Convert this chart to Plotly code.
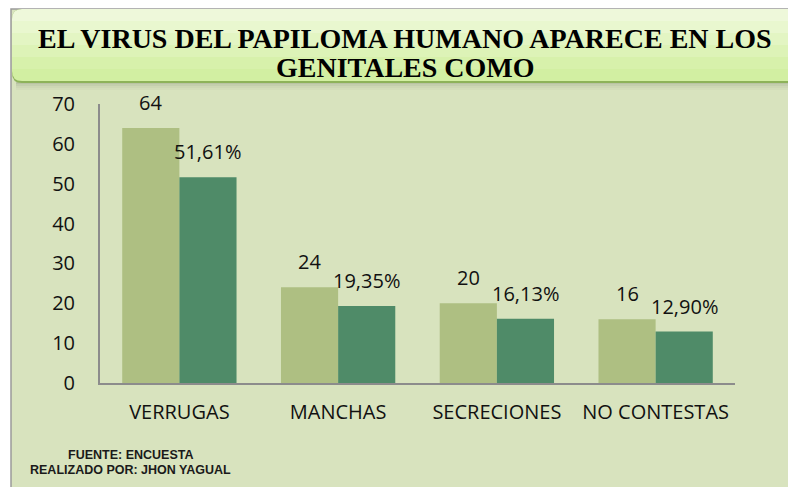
import plotly.graph_objects as go

# ---- data ----
categories = ["VERRUGAS", "MANCHAS", "SECRECIONES", "NO CONTESTAS"]
frecuencia = [64, 24, 20, 16]
porcentaje = [51.61, 19.35, 16.13, 12.90]
frecuencia_labels = ["64", "24", "20", "16"]
porcentaje_labels = ["51,61%", "19,35%", "16,13%", "12,90%"]
y_ticks = [0, 10, 20, 30, 40, 50, 60, 70]

title_line1 = "EL VIRUS DEL PAPILOMA HUMANO APARECE EN LOS"
title_line2 = "GENITALES COMO"
footer1 = "FUENTE: ENCUESTA"
footer2 = "REALIZADO POR: JHON YAGUAL"

# ---- geometry helpers (pixel -> paper) ----
W, H = 788, 487
ML, MR, MT, MB = 100, 53, 104, 104
PW, PH = W - ML - MR, H - MT - MB


def px(xp):
    return (xp - ML) / PW


def py(yp):
    return (H - MB - yp) / PH


fig = go.Figure()

fig.add_trace(go.Bar(
    x=categories, y=frecuencia, name="Frecuencia",
    marker=dict(color="#AEBF82", line=dict(width=0)),
))
fig.add_trace(go.Bar(
    x=categories, y=porcentaje, name="Porcentaje",
    marker=dict(color="#4F8B68", line=dict(width=0)),
))

shapes = []
# outer frame
shapes.append(dict(type="rect", xref="paper", yref="paper", layer="below",
                   x0=px(11), x1=px(800), y0=py(500), y1=py(9),
                   fillcolor="#D8E3BE", line=dict(color="#9A9A9A", width=1.5)))
# title box shadow
for i, c in enumerate(["#B9C3A4", "#C4CEAE", "#CDD7B5", "#D3DDBA"]):
    shapes.append(dict(type="rect", xref="paper", yref="paper", layer="below",
                       x0=px(16), x1=px(800), y0=py(84 + 2 * i), y1=py(82 + 2 * i),
                       fillcolor=c, line=dict(width=0)))
# title box with rounded left corners (gradient built from bands)
r = 10


def rounded_path(x0, y0, x1, y1, rad):
    return (f"M {px(x0 + rad)},{py(y0)} L {px(x1)},{py(y0)} L {px(x1)},{py(y1)} "
            f"L {px(x0 + rad)},{py(y1)} Q {px(x0)},{py(y1)} {px(x0)},{py(y1 - rad)} "
            f"L {px(x0)},{py(y0 + rad)} Q {px(x0)},{py(y0)} {px(x0 + rad)},{py(y0)} Z")


shapes.append(dict(type="path", xref="paper", yref="paper", layer="below",
                   path=rounded_path(12, 9, 800, 83, r), fillcolor="#8DB25A",
                   line=dict(width=0)))
band_cols = ["#EEF8DA", "#E9F7CF", "#E3F5C3", "#DDF3B7", "#D7F1AB", "#D2EFA2"]
n = len(band_cols)
top, bot = 9, 81
for i, c in enumerate(band_cols):
    y0 = top + (bot - top) * i / n
    y1 = top + (bot - top) * (i + 1) / n
    if i == 0:
        path = (f"M {px(12 + r)},{py(y0)} L {px(800)},{py(y0)} L {px(800)},{py(y1)} "
                f"L {px(12)},{py(y1)} L {px(12)},{py(y0 + r)} "
                f"Q {px(12)},{py(y0)} {px(12 + r)},{py(y0)} Z")
    elif i == n - 1:
        path = (f"M {px(12)},{py(y0)} L {px(800)},{py(y0)} L {px(800)},{py(y1)} "
                f"L {px(12 + r)},{py(y1)} Q {px(12)},{py(y1)} {px(12)},{py(y1 - r)} Z")
    else:
        path = (f"M {px(12)},{py(y0)} L {px(800)},{py(y0)} L {px(800)},{py(y1)} "
                f"L {px(12)},{py(y1)} Z")
    shapes.append(dict(type="path", xref="paper", yref="paper", layer="below",
                       path=path, fillcolor=c, line=dict(width=0)))

annotations = []
title_font = dict(family="Liberation Serif, DejaVu Serif, Times New Roman, serif",
                  size=28, color="#000000")
annotations.append(dict(text=f"<b>{title_line1}</b>", xref="paper", yref="paper",
                        x=px(405), y=py(39), xanchor="center", yanchor="middle",
                        showarrow=False, font=title_font))
annotations.append(dict(text=f"<b>{title_line2}</b>", xref="paper", yref="paper",
                        x=px(405), y=py(67), xanchor="center", yanchor="middle",
                        showarrow=False, font=title_font))

label_font = dict(family="Open Sans", size=20, color="#111111")
for cat, v, lab in zip(categories, frecuencia, frecuencia_labels):
    annotations.append(dict(x=cat, y=v, text=lab, xref="x", yref="y",
                            xshift=-28.6, yshift=10, yanchor="bottom",
                            showarrow=False, font=label_font))
for cat, v, lab in zip(categories, porcentaje, porcentaje_labels):
    annotations.append(dict(x=cat, y=v, text=lab, xref="x", yref="y",
                            xshift=28.6, yshift=10, yanchor="bottom",
                            showarrow=False, font=label_font))

footer_font = dict(family="Liberation Sans, Arial, sans-serif", size=12.5, color="#1a1a1a")
annotations.append(dict(text=f"<b>{footer1}</b>", xref="paper", yref="paper",
                        x=px(130), y=py(455), xanchor="center", yanchor="middle",
                        showarrow=False, font=footer_font))
annotations.append(dict(text=f"<b>{footer2}</b>", xref="paper", yref="paper",
                        x=px(130), y=py(470), xanchor="center", yanchor="middle",
                        showarrow=False, font=footer_font))

fig.update_layout(
    width=W, height=H,
    margin=dict(l=ML, r=MR, t=MT, b=MB, pad=0),
    paper_bgcolor="#FFFFFF",
    plot_bgcolor="rgba(0,0,0,0)",
    barmode="group", bargap=0.28, bargroupgap=0,
    showlegend=False,
    shapes=shapes,
    annotations=annotations,
    xaxis=dict(showline=True, linecolor="#8C8C8C", linewidth=2, showgrid=False,
               ticks="", tickfont=dict(family="Open Sans", size=20, color="#111111"),
               ticklabelstandoff=10, zeroline=False),
    yaxis=dict(range=[0, 70], tickvals=y_ticks, showline=True, linecolor="#8C8C8C",
               linewidth=2, showgrid=False, ticks="", zeroline=False,
               tickfont=dict(family="Open Sans", size=20, color="#111111"),
               ticklabelstandoff=19),
)

fig.write_html("out.html",
               config={"displayModeBar": False},
               post_script="document.body.style.margin='0';"
                           "document.body.style.overflow='hidden';")
